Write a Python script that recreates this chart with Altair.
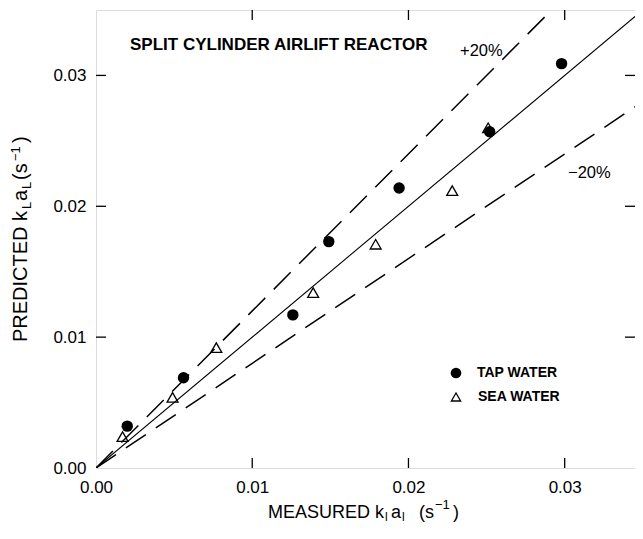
import altair as alt
import pandas as pd

# ---- data ----
tap_x = [0.0020, 0.0056, 0.0126, 0.0149, 0.0194, 0.0252, 0.0298]
tap_y = [0.0032, 0.0069, 0.0117, 0.0173, 0.0214, 0.0257, 0.0309]
sea_x = [0.0017, 0.0049, 0.0077, 0.0139, 0.0179, 0.0228, 0.0251]
sea_y = [0.0024, 0.0054, 0.0092, 0.0134, 0.0171, 0.0212, 0.0260]

line_x = [0.0, 0.035]
parity_y = [0.0, 0.035]
plus20_y = [0.0, 0.042]
minus20_y = [0.0, 0.028]

tick_values = [0.01, 0.02, 0.03]
label_values = [0.0, 0.01, 0.02, 0.03]

chart_title = "SPLIT CYLINDER AIRLIFT REACTOR"
plus_label = "+20%"
minus_label = "\u221220%"
legend_labels = ["TAP WATER", "SEA WATER"]

W, H = 539, 458
FONT = "Liberation Sans"

xs = alt.Scale(domain=[0, 0.0345], nice=False, zero=True)
ys = alt.Scale(domain=[0, 0.035], nice=False, zero=True)

xax = alt.Axis(values=label_values, format=".2f", ticks=False, domain=False, grid=False,
               labelFontSize=17, labelColor="black", labelFont=FONT, labelPadding=11,
               title=None, labelFlush=False)
yax = alt.Axis(values=label_values, format=".2f", ticks=False, domain=False, grid=False,
               labelFontSize=17, labelColor="black", labelFont=FONT, labelPadding=10,
               title=None)

X = lambda f: alt.X(f, type="quantitative", scale=xs, axis=xax)
Y = lambda f: alt.Y(f, type="quantitative", scale=ys, axis=yax)

# lines
solid_df = pd.DataFrame({"x": line_x, "y": parity_y})
dash_df = pd.DataFrame({
    "x": line_x + line_x,
    "y": plus20_y + minus20_y,
    "s": ["+20"] * 2 + ["-20"] * 2,
})
solid = alt.Chart(solid_df).mark_line(color="black", strokeWidth=1.1, clip=True).encode(
    x=X("x"), y=Y("y"))
dashed = alt.Chart(dash_df).mark_line(color="black", strokeWidth=1.5, strokeDash=[24, 12],
                                      clip=True).encode(x=X("x"), y=Y("y"), detail="s:N")

# points
tap_df = pd.DataFrame({"x": tap_x, "y": tap_y})
sea_df = pd.DataFrame({"x": sea_x, "y": sea_y})
tap = alt.Chart(tap_df).mark_point(shape="circle", filled=True, color="black", size=130,
                                   opacity=1).encode(x=X("x"), y=Y("y"))
sea = alt.Chart(sea_df).mark_point(shape="triangle-up", filled=False, color="black", size=120,
                                   strokeWidth=1.3, opacity=1).encode(x=X("x"), y=Y("y"))

# inward ticks on all four sides
tick_df = pd.DataFrame({"v": tick_values})
tk = dict(color="black", strokeWidth=1.3)
bt = alt.Chart(tick_df).mark_rule(**tk).encode(x=X("v"), y=alt.value(H), y2=alt.value(H - 10))
tt = alt.Chart(tick_df).mark_rule(**tk).encode(x=X("v"), y=alt.value(0), y2=alt.value(10))
lt = alt.Chart(tick_df).mark_rule(**tk).encode(y=Y("v"), x=alt.value(0), x2=alt.value(10))
rt = alt.Chart(tick_df).mark_rule(**tk).encode(y=Y("v"), x=alt.value(W), x2=alt.value(W - 10))


def txt(s, x, y, size, angle=0, weight="normal", align="left", baseline="alphabetic"):
    kw = dict(font=FONT, fontSize=size, fontWeight=weight, align=align, baseline=baseline,
              color="black")
    if angle:
        kw["angle"] = angle
    return alt.Chart(pd.DataFrame({"t": [s]})).mark_text(**kw).encode(
        text="t:N", x=alt.value(x), y=alt.value(y))


OX, OY = 96, 10  # page position of plot origin
XB = 518  # baseline of x-axis title (page)
texts = [
    txt(chart_title, 130 - OX, 50 - OY, 17, weight="bold"),
    txt(plus_label, 460 - OX, 56 - OY, 16.5),
    txt(minus_label, 568 - OX, 178 - OY, 16.5),
    txt(legend_labels[0], 477 - OX, 373 - OY, 14, weight="bold", baseline="middle"),
    txt(legend_labels[1], 478 - OX, 397 - OY, 14, weight="bold", baseline="middle"),
    # x axis title
    txt("MEASURED k", 268 - OX, XB - OY, 18),
    txt("l", 385 - OX, XB + 3 - OY, 12),
    txt("a", 391 - OX, XB - OY, 18),
    txt("l", 402 - OX, XB + 3 - OY, 12),
    txt("(s", 419 - OX, XB - OY, 18),
    txt("\u22121", 435 - OX, XB - 9 - OY, 13),
    txt(")", 453 - OX, XB - OY, 18),
    # y axis title (rotated)
    txt("PREDICTED k", 27 - OX, 342 - OY, 20, angle=270),
    txt("L", 31 - OX, 209 - OY, 13, angle=270),
    txt("a", 27 - OX, 201 - OY, 20, angle=270),
    txt("L", 31 - OX, 189 - OY, 13, angle=270),
    txt("(s", 27 - OX, 180 - OY, 20, angle=270),
    txt("\u22121", 20 - OX, 161 - OY, 13, angle=270),
    txt(")", 27 - OX, 143 - OY, 20, angle=270),
]

leg_sym = pd.DataFrame({"t": [0]})
leg_c = alt.Chart(leg_sym).mark_point(shape="circle", filled=True, color="black", size=115,
                                      opacity=1).encode(x=alt.value(456 - OX), y=alt.value(373 - OY))
leg_t = alt.Chart(leg_sym).mark_point(shape="triangle-up", filled=False, color="black", size=85,
                                      strokeWidth=1.3, opacity=1).encode(
    x=alt.value(456 - OX), y=alt.value(397 - OY))

chart = alt.layer(solid, dashed, tap, sea, bt, tt, lt, rt, leg_c, leg_t, *texts).properties(
    width=W, height=H,
    autosize=alt.AutoSizeParams(type="none"),
    padding={"left": 88, "top": 2, "right": 0, "bottom": 58},
    background="white",
).configure_view(stroke="black", strokeWidth=1.5).configure(font=FONT)

chart.save("out.html", embed_options={"renderer": "svg", "actions": False})
